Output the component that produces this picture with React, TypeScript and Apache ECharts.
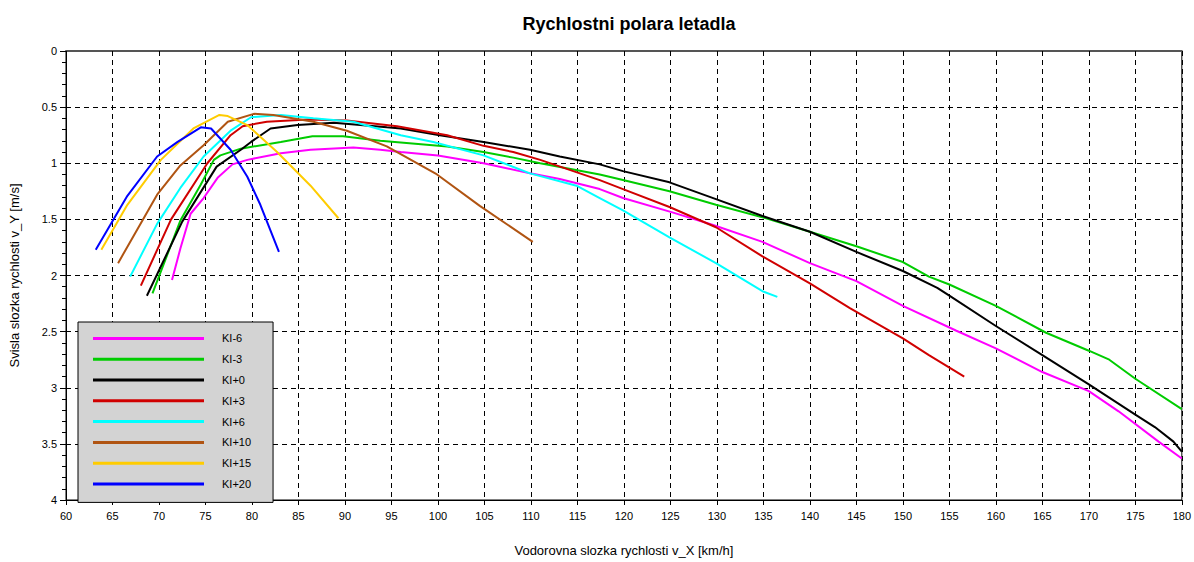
import React, { useEffect, useRef } from "react";
import * as echarts from "echarts";

const seriesNames = ["KI-6", "KI-3", "KI+0", "KI+3", "KI+6", "KI+10", "KI+15", "KI+20"];
const seriesColors = ["#ff00ff", "#00cc00", "#000000", "#d00000", "#00ffff", "#b05412", "#ffcc00", "#0000ff"];

const kiMinus6: [number, number][] = [
  [71.4, 2.04], [72.3, 1.76], [73.4, 1.45], [74.8, 1.31], [76.3, 1.13], [77.9, 1.01], [79.5, 0.97],
  [83.1, 0.91], [86.3, 0.88], [90.9, 0.86], [93.8, 0.88], [96, 0.9], [100, 0.93], [104.9, 1.0],
  [109.9, 1.09], [113.1, 1.14], [117.4, 1.23], [119.9, 1.31], [125.3, 1.44], [129.6, 1.55],
  [134.9, 1.7], [140, 1.89], [145, 2.05], [150, 2.27], [155.7, 2.49], [160, 2.65], [165, 2.86],
  [170, 3.03], [173.2, 3.21], [177.5, 3.48], [180, 3.63],
];
const kiMinus3: [number, number][] = [
  [69.3, 2.16], [72.3, 1.51], [74.5, 1.19], [75.9, 0.97], [76.6, 0.93], [78.8, 0.87], [83.1, 0.81],
  [86.5, 0.76], [89.8, 0.76], [93.8, 0.8], [101, 0.85], [104.9, 0.9], [108.1, 0.95], [111, 1.0],
  [117.4, 1.1], [119.9, 1.15], [124.9, 1.25], [129.9, 1.37], [135.3, 1.49], [140, 1.61], [145, 1.74],
  [150, 1.88], [152.8, 2.01], [155, 2.08], [160, 2.27], [165.4, 2.51], [170, 2.67], [172.2, 2.75],
  [175, 2.92], [180, 3.19],
];
const kiPlus0: [number, number][] = [
  [68.7, 2.18], [72.5, 1.52], [76.2, 1.03], [78.8, 0.88], [79.9, 0.81], [82, 0.69], [84.9, 0.66],
  [88.8, 0.64], [94.5, 0.68], [96, 0.69], [100.2, 0.75], [104.9, 0.81], [109.9, 0.88], [113.1, 0.94],
  [117.4, 1.01], [119.9, 1.07], [124.9, 1.17], [129.9, 1.32], [134.9, 1.47], [140, 1.61], [145, 1.79],
  [150, 1.96], [153.7, 2.11], [155, 2.18], [160, 2.45], [165, 2.71], [170, 2.97], [175, 3.24],
  [177.1, 3.35], [179.1, 3.48], [180, 3.57],
];
const kiPlus3: [number, number][] = [
  [68.05, 2.09], [71.3, 1.5], [75.2, 1.0], [77.7, 0.75], [79, 0.67], [81.6, 0.63], [86, 0.61],
  [90.2, 0.62], [95.6, 0.67], [101, 0.75], [104.9, 0.845], [108.1, 0.9], [111, 0.97], [117.4, 1.15],
  [119.9, 1.23], [124.9, 1.39], [129.9, 1.57], [134.9, 1.83], [140, 2.07], [144.3, 2.29], [150, 2.56],
  [152.8, 2.71], [156.6, 2.9],
];
const kiPlus6: [number, number][] = [
  [66.9, 2.01], [69.8, 1.54], [72.3, 1.22], [74.8, 0.94], [77.7, 0.71], [79.9, 0.59], [83.1, 0.57],
  [86.6, 0.6], [90.9, 0.63], [96, 0.75], [99.5, 0.81], [104.9, 0.93], [109.9, 1.09], [114.9, 1.2],
  [117.4, 1.31], [119.9, 1.42], [124.9, 1.66], [129.9, 1.89], [134.9, 2.14], [136.5, 2.19],
];
const kiPlus10: [number, number][] = [
  [65.6, 1.89], [69.8, 1.28], [72.3, 1.02], [74.8, 0.84], [77.4, 0.63], [80.2, 0.56], [82.3, 0.57],
  [86.6, 0.63], [90.2, 0.71], [94.5, 0.85], [99.9, 1.1], [104.5, 1.38], [110.2, 1.7],
];
const kiPlus15: [number, number][] = [
  [63.8, 1.77], [66.6, 1.37], [70.2, 0.97], [73.7, 0.69], [76.5, 0.57], [77.4, 0.58], [79.5, 0.66],
  [82.7, 0.9], [86.3, 1.2], [89.3, 1.49],
];
const kiPlus20: [number, number][] = [
  [63.2, 1.77], [66.6, 1.29], [69.8, 0.94], [72, 0.81], [74.5, 0.68], [75.6, 0.69], [77.7, 0.88],
  [79.5, 1.12], [80.9, 1.37], [82.9, 1.79],
];

const seriesData = [kiMinus6, kiMinus3, kiPlus0, kiPlus3, kiPlus6, kiPlus10, kiPlus15, kiPlus20];

const FONT = "'Liberation Sans', Arial, sans-serif";

export default function App() {
  const ref = useRef<HTMLDivElement>(null);
  useEffect(() => {
    document.body.style.margin = "0";
    if (!ref.current) return;
    const chart = echarts.init(ref.current, undefined, { renderer: "svg" });
    const gridDash = { color: "#000", type: [5, 4] as any, width: 1 };
    chart.setOption({
      animation: false,
      backgroundColor: "#ffffff",
      title: {
        text: "Rychlostni polara letadla",
        left: 624,
        top: 10,
        textAlign: "center",
        textStyle: { fontFamily: FONT, fontSize: 18, fontWeight: "bold", color: "#000" },
      },
      grid: { left: 65, right: 11, top: 51, bottom: 55, show: true, borderColor: "#000", borderWidth: 1 },
      legend: {
        orient: "vertical",
        left: 78,
        top: 322,
        padding: [6, 22, 8, 15],
        itemWidth: 111,
        itemHeight: 3,
        itemGap: 0,
        icon: "rect",
        backgroundColor: "#d3d3d3",
        borderColor: "#000",
        borderWidth: 1,
        textStyle: { fontFamily: FONT, fontSize: 11, color: "#000", lineHeight: 20.8, padding: [0, 0, 0, 13] },
        data: seriesNames,
      },
      xAxis: [
        {
          type: "value",
          min: 60,
          max: 180,
          interval: 5,
          position: "bottom",
          name: "Vodorovna slozka rychlosti v_X [km/h]",
          nameLocation: "middle",
          nameGap: 44,
          nameTextStyle: { fontFamily: FONT, fontSize: 13, color: "#000" },
          axisLine: { show: true, onZero: false, lineStyle: { color: "#000", width: 1 } },
          axisTick: { show: true, inside: false, length: 5, lineStyle: { color: "#000" } },
          axisLabel: { fontFamily: FONT, fontSize: 11, color: "#000", margin: 10 },
          splitLine: { show: true, lineStyle: gridDash },
        },
        {
          type: "value",
          min: 60,
          max: 180,
          interval: 5,
          position: "top",
          axisLine: { show: true, onZero: false, lineStyle: { color: "#555", width: 2 } },
          axisTick: { show: true, inside: true, length: 5, lineStyle: { color: "#000" } },
          axisLabel: { show: false },
          splitLine: { show: false },
        },
      ],
      yAxis: {
        type: "value",
        min: 0,
        max: 4,
        interval: 0.5,
        inverse: true,
        name: "Svisla slozka rychlosti v_Y [m/s]",
        nameLocation: "middle",
        nameGap: 45,
        nameTextStyle: { fontFamily: FONT, fontSize: 13, color: "#000" },
        axisLine: { show: true, onZero: false, lineStyle: { color: "#000", width: 1 } },
        axisTick: { show: true, inside: false, length: 6, lineStyle: { color: "#000" } },
        minorTick: { show: true, splitNumber: 5, length: 4, lineStyle: { color: "#000" } },
        axisLabel: { fontFamily: FONT, fontSize: 11, color: "#000", margin: 9 },
        splitLine: { show: true, lineStyle: gridDash },
      },
      series: seriesNames.map((name, i) => ({
        name,
        type: "line",
        data: seriesData[i],
        symbol: "none",
        showSymbol: false,
        smooth: false,
        color: seriesColors[i],
        lineStyle: { color: seriesColors[i], width: 2 },
      })),
    });
    return () => chart.dispose();
  }, []);
  return <div ref={ref} style={{ width: 1194, height: 562 }} />;
}
